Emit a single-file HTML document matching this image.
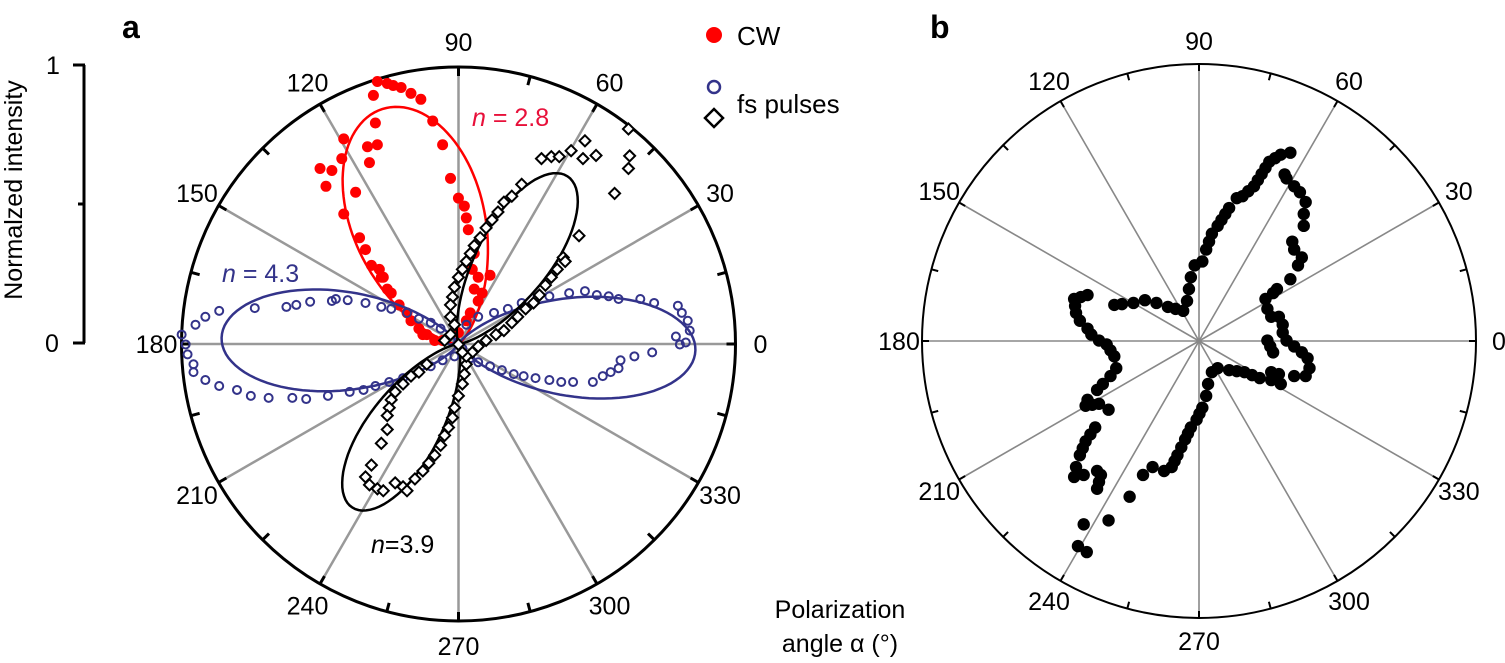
<!DOCTYPE html>
<html><head><meta charset="utf-8"><style>
html,body{margin:0;padding:0;background:#fff;}
svg{display:block;font-family:"Liberation Sans",Arial,sans-serif;}
</style></head><body>
<svg id="s" width="1505" height="663" viewBox="0 0 1505 663" xmlns="http://www.w3.org/2000/svg">
<text x="122" y="38" font-size="32" font-weight="bold">a</text>
<text x="930" y="38" font-size="32" font-weight="bold">b</text>
<line x1="84" y1="65" x2="84" y2="343" stroke="#000" stroke-width="3"/>
<line x1="73" y1="65" x2="85" y2="65" stroke="#000" stroke-width="3"/>
<line x1="78" y1="204" x2="85" y2="204" stroke="#000" stroke-width="3"/>
<line x1="73" y1="343" x2="85" y2="343" stroke="#000" stroke-width="3"/>
<text x="53" y="74" font-size="25" text-anchor="middle">1</text>
<text x="52" y="352" font-size="25" text-anchor="middle">0</text>
<text transform="translate(22,190) rotate(-90)" font-size="25" text-anchor="middle">Normalzed intensity</text>
<text x="840" y="618" font-size="25" text-anchor="middle">Polarization</text>
<text x="840" y="652" font-size="25" text-anchor="middle">angle α (°)</text>
<circle cx="714" cy="35" r="8" fill="#f00"/>
<text x="737" y="45" font-size="26">CW</text>
<circle cx="714" cy="87" r="6" fill="none" stroke="#33338a" stroke-width="2.5"/>
<path d="M714 109 L723 118 L714 127 L705 118 Z" fill="#fff" stroke="#000" stroke-width="2.5"/>
<text x="737" y="113" font-size="26">fs pulses</text>
<text x="472" y="126" font-size="25" fill="#e8103a"><tspan font-style="italic">n</tspan> = 2.8</text>
<text x="222" y="282" font-size="25" fill="#33338a"><tspan font-style="italic">n</tspan> = 4.3</text>
<text x="371" y="553" font-size="25" fill="#000"><tspan font-style="italic">n</tspan>=3.9</text>
<g id="g"></g>
</svg>
<script>
var NS="http://www.w3.org/2000/svg",g=document.getElementById('g');
function el(t,a){var e=document.createElementNS(NS,t);for(var k in a)e.setAttribute(k,a[k]);g.appendChild(e);return e;}
function polar(cx,cy,r,sw,spw,spc,lr,big){
  for(var a=0;a<360;a+=30){var t=a*Math.PI/180;
    el('line',{x1:cx,y1:cy,x2:cx+r*Math.cos(t),y2:cy-r*Math.sin(t),stroke:spc,'stroke-width':spw});}
  el('circle',{cx:cx,cy:cy,r:r,fill:'none',stroke:'#000','stroke-width':sw});
  for(var a=0;a<360;a+=15){var t=a*Math.PI/180,L=big?9:7;
    el('line',{x1:cx+r*Math.cos(t),y1:cy-r*Math.sin(t),x2:cx+(r-L)*Math.cos(t),y2:cy-(r-L)*Math.sin(t),stroke:'#000','stroke-width':sw});}
  for(var a=0;a<360;a+=30){var t=a*Math.PI/180;
    var e=el('text',{x:cx+lr*Math.cos(t),y:cy-lr*Math.sin(t)+9,'font-size':25,'text-anchor':'middle'});e.textContent=a;}
}
var ax=458.5,ay=344;
polar(ax,ay,277,3,2.5,'#999',302,true);
function lobe(cx,cy,axis,R,p,col){
  var d='';for(var i=-90;i<=90;i+=1){var t=i*Math.PI/180,r=R*Math.pow(Math.cos(t),p),a=(axis+i)*Math.PI/180;
    d+=(i==-90?'M':'L')+(cx+r*Math.cos(a)).toFixed(1)+' '+(cy-r*Math.sin(a)).toFixed(1);}
  el('path',{d:d+'Z',fill:'none',stroke:col,'stroke-width':2.5});
}
function Z(p){return [p[0]/2.529+150,p[1]/2.529+40];}
var red=[[575,105],[600,110],[615,115],[635,120],[660,135],[685,150],[565,140],[715,205],[570,210],[740,265],[575,265],[550,270],[555,310],[490,250],[485,300],[430,325],[460,330],[445,370],[520,385],[760,350],[780,400],[795,420],[800,450],[805,480],[490,440],[530,500],[545,530],[560,570],[580,580],[590,600],[600,630],[630,670],[650,690],[660,710],[680,730],[700,745],[720,760],[820,540],[815,580],[830,600],[860,595],[820,630],[840,640],[830,660],[810,690],[800,710],[780,740],[585,600],[610,640],[690,745],[740,760]];
var blue=[[80,745],[115,720],[140,700],[175,685],[265,678],[345,675],[370,670],[405,662],[460,660],[470,655],[500,658],[545,665],[585,675],[610,680],[650,690],[680,705],[710,715],[735,730],[90,770],[95,795],[110,820],[110,840],[140,860],[175,875],[220,885],[255,900],[300,905],[360,905],[395,908],[450,900],[505,890],[540,885],[570,875],[605,865],[640,855],[680,840],[710,825],[740,810],[800,720],[830,700],[870,690],[905,680],[940,665],[980,650],[1010,648],[1060,640],[1100,635],[1130,645],[1160,648],[1185,655],[1240,655],[1275,665],[1335,672],[1345,690],[1360,710],[1365,735],[1330,750],[1340,770],[1355,765],[1270,790],[1225,800],[1190,810],[1185,830],[1165,840],[1145,850],[1120,865],[1070,865],[1040,865],[1010,860],[975,855],[945,850],[920,845],[890,835],[860,825],[830,815],[810,805],[760,760],[790,780],[770,800]];
var blk=[[940,365],[915,395],[895,410],[880,435],[865,455],[850,475],[835,500],[820,520],[810,540],[800,560],[790,580],[780,600],[770,625],[765,650],[760,670],[760,700],[770,720],[1045,550],[1030,580],[1015,600],[1000,620],[985,645],[970,665],[950,680],[930,700],[915,715],[895,735],[875,745],[850,760],[830,775],[815,790],[990,300],[1015,295],[1035,295],[1065,280],[1100,255],[1095,300],[1128,292],[1210,225],[1213,293],[1210,325],[1175,388],[1085,495],[1050,560],[700,820],[680,840],[660,850],[640,870],[620,890],[610,910],[605,930],[600,950],[600,985],[585,1020],[560,1075],[545,1105],[555,1125],[575,1135],[590,1140],[620,1120],[640,1130],[650,1140],[670,1110],[690,1090],[705,1070],[720,1050],[735,1025],[745,1000],[755,980],[765,955],[770,930],[780,900],[790,870],[795,845],[800,820],[800,800],[790,790],[760,745],[745,760],[780,770]];
red.forEach(function(p){var q=Z(p);el('circle',{cx:q[0],cy:q[1],r:5.5,fill:'#f00'});});
lobe(ax,ay,108,247,4.5,'#f00');
blue.forEach(function(p){var q=Z(p);el('circle',{cx:q[0],cy:q[1],r:4,fill:'none',stroke:'#33338a','stroke-width':2});});
lobe(ax,ay,-1.5,237,7.5,'#33338a');lobe(ax,ay,178.5,237,7.5,'#33338a');
lobe(ax,ay,57,200,10,'#000');lobe(ax,ay,237,195,10,'#000');
blk.forEach(function(p){var q=Z(p),h=5.5;el('path',{d:'M'+q[0]+' '+(q[1]-h)+'L'+(q[0]+h)+' '+q[1]+'L'+q[0]+' '+(q[1]+h)+'L'+(q[0]-h)+' '+q[1]+'Z',fill:'#fff',stroke:'#000','stroke-width':2});});
var bx=1199,by=341;
polar(bx,by,277,2,1.6,'#888',300,false);
var B=[[1020,285],[995,290],[965,308],[925,370],[895,395],[880,400],[860,425],[850,440],[830,470],[815,490],[800,530],[790,560],[770,570],[760,600],[755,630],[750,660],[740,685],[720,680],[700,675],[670,665],[640,658],[610,665],[580,668],[560,670],null,[490,645],[455,655],[460,690],[470,710],[490,730],[500,745],[520,760],[540,770],[560,800],[565,830],[550,850],[530,870],[515,885],null,[490,910],[485,925],[520,920],[545,935],null,[510,980],[485,1015],[470,1050],[460,1080],[455,1105],[480,1100],null,[515,1090],[525,1100],[515,1135],null,[480,1225],null,[465,1280],[488,1295],null,[545,1215],null,[600,1155],null,[635,1100],[660,1080],[690,1090],[710,1080],[725,1050],[745,1010],[760,980],[775,960],[790,930],[800,900],[805,870],[815,840],[830,830],[860,835],[900,840],[940,855],[970,860],[995,870],[990,845],[970,840],null,[1030,850],[1060,850],[1070,830],[1065,805],[1050,790],[1030,775],[1010,760],[1000,740],[1000,720],[990,700],[970,700],[960,680],[955,655],[975,640],[985,630],null,[1020,605],null,[1040,570],[1050,550],[1030,530],[1025,510],null,[1055,470],[1055,440],[1060,410],[1045,385],[1030,370],[1010,350],[1005,340],null,[960,760],[975,790]];
function ZB(p){return [p[0]/2.613+900,p[1]/2.529+40];}
var prev=null;
B.forEach(function(p){if(!p){prev=null;return;}var q=ZB(p);
  if(prev){var dx=q[0]-prev[0],dy=q[1]-prev[1],d=Math.hypot(dx,dy);
    if(d<40){var n=Math.floor(d/6.5);for(var i=1;i<n;i++)el('circle',{cx:prev[0]+dx*i/n,cy:prev[1]+dy*i/n,r:6.2,fill:'#000'});}}
  el('circle',{cx:q[0],cy:q[1],r:6.2,fill:'#000'});prev=q;});
</script>
</body></html>
